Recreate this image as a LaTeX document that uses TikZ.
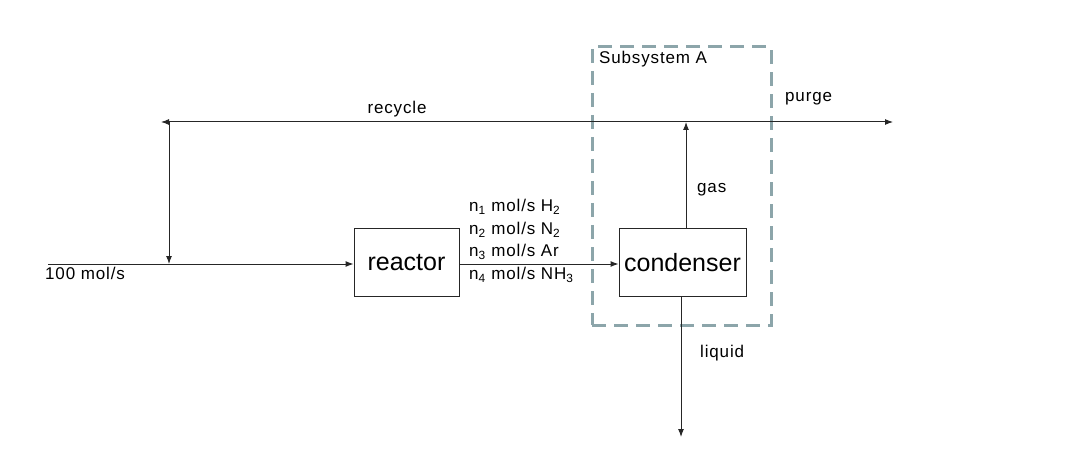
\documentclass[tikz,border=0pt]{standalone}
\usepackage{fontspec}
\setmainfont{Liberation Sans}
\usetikzlibrary{arrows.meta}
\definecolor{dashcol}{RGB}{140,165,170}
\tikzset{
  lbl/.style={inner sep=0pt, font=\fontsize{17}{20}\selectfont\addfontfeature{LetterSpace=5}},
  unit/.style={draw=black!85, line width=1pt, minimum height=67pt, inner sep=0pt, font=\fontsize{25}{30}\selectfont},
  conn/.style={draw=black!85, line width=1pt, -{Latex[length=8pt,width=6pt]}},
  sysbox/.style={draw=dashcol, line width=3pt, dash pattern=on 14pt off 8pt, minimum width=179pt, minimum height=278pt, inner sep=0pt}
}
\begin{document}
\begin{tikzpicture}[x=1pt,y=-1pt]
\useasboundingbox (0,0) rectangle (1083,470);
\node[sysbox] (sys) at (681.5,186) {};
\node[unit, minimum width=105pt] (reactor) at (406.5,262.5) {reactor};
\node[unit, minimum width=127pt] (cond) at (682.5,262.5) {condenser};
\coordinate (feed) at (48,264);
\coordinate (mix) at (169,264);
\coordinate (split) at (169,122);
\coordinate (recL) at (161,122);
\coordinate (purgeR) at (893,122);
\coordinate (gastop) at (686,122);
\coordinate (liqend) at (681,437);
% texts
\node[lbl, anchor=west] (subA) at (599,59) {Subsystem A};
\node[lbl] (recyc) at (397,109) {recycle};
\node[lbl, anchor=west] (purge) at (785,99) {purge};
\node[lbl, anchor=west] (gas) at (697,190) {gas};
\node[lbl, anchor=west] (liquid) at (700,353) {liquid};
\node[lbl, anchor=west] (feedlbl) at (45,273) {100 mol/s};
\node[lbl, anchor=west] (n1) at (469,207) {n\textsubscript{1} mol/s H\textsubscript{2}};
\node[lbl, anchor=west] (n2) at (469,230) {n\textsubscript{2} mol/s N\textsubscript{2}};
\node[lbl, anchor=west] (n3) at (469,252) {n\textsubscript{3} mol/s Ar};
\node[lbl, anchor=west] (n4) at (469,275) {n\textsubscript{4} mol/s NH\textsubscript{3}};
% connectors
\draw[conn] (feed) -- (reactor.west |- feed);
\draw[conn, {Latex[length=8pt,width=6pt]}-{Latex[length=8pt,width=6pt]}] (recL) -- (purgeR);
\draw[conn] (split) -- (mix);
\draw[conn] (reactor.east |- feed) -- (cond.west |- feed);
\draw[conn] (cond.north -| gastop) -- (gastop);
\draw[conn] (cond.south -| liqend) -- (liqend);
\end{tikzpicture}
\end{document}
